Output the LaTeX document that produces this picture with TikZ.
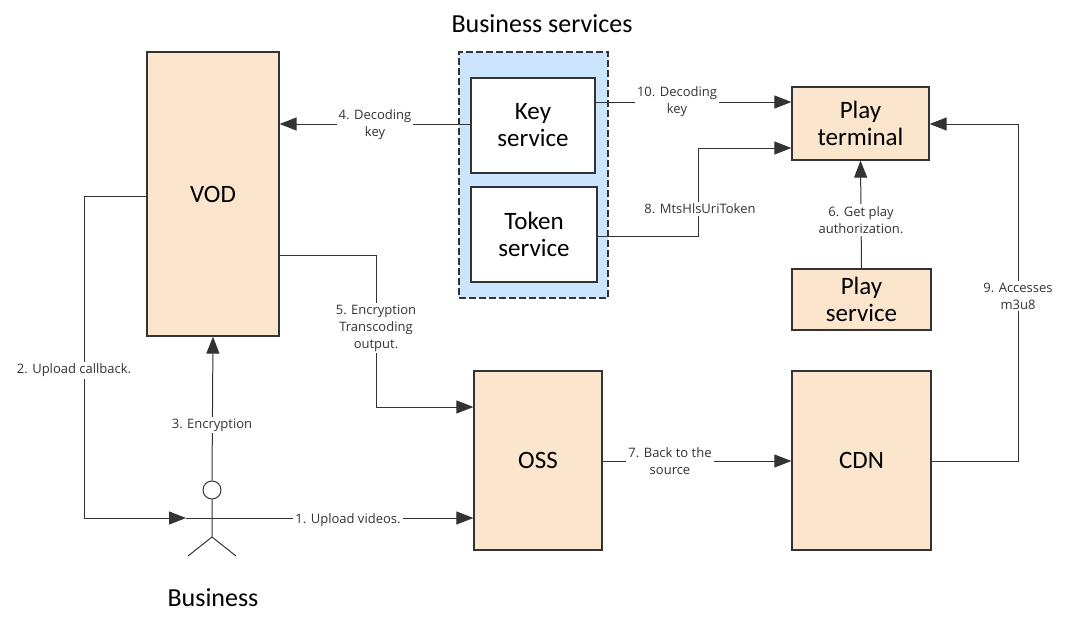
\documentclass[tikz,border=0pt]{standalone}
\usepackage{fontspec}
\setmainfont{Carlito}
\newfontfamily\lblfont{Open Sans}
\usetikzlibrary{arrows.meta}
\definecolor{peach}{HTML}{FCE5CD}
\definecolor{lblue}{HTML}{CCE5FF}
\definecolor{edge}{HTML}{333333}
\begin{document}
\begin{tikzpicture}[x=1pt,y=-1pt,
  box/.style={draw=edge,line width=1.2pt,fill=peach,font=\fontsize{25}{27}\selectfont,align=center,inner sep=0},
  wbox/.style={draw=edge,line width=1.2pt,fill=white,font=\fontsize{25}{27}\selectfont,align=center,inner sep=0},
  ln/.style={draw=edge,line width=1pt},
  arr/.style={ln,-{Triangle[length=17pt,width=13pt]}},
  lbl/.style={fill=white,font=\lblfont\fontsize{13}{17}\selectfont,text=edge,align=center,inner sep=2pt}]
\useasboundingbox (0,0) rectangle (1077,621);
\node[font=\fontsize{26}{28}\selectfont] (bs) at (542,24) {Business services};
\node[draw=edge,dash pattern=on 7pt off 3pt,line width=1.2pt,fill=lblue,minimum width=149pt,minimum height=246pt] (grp) at (533.5,175) {};
\node[box,minimum width=132pt,minimum height=284pt] (vod) at (213,194) {VOD};
\node[wbox,minimum width=124pt,minimum height=95pt] (key) at (533,125.5) {Key\\service};
\node[wbox,minimum width=126pt,minimum height=95pt] (tok) at (534,234.5) {Token\\service};
\node[box,minimum width=137pt,minimum height=73pt] (pt) at (860.5,123.5) {Play\\terminal};
\node[box,minimum width=139pt,minimum height=61pt] (ps) at (861.5,299.5) {Play\\service};
\node[box,minimum width=128pt,minimum height=179pt] (oss) at (538,460.5) {OSS};
\node[box,minimum width=139pt,minimum height=179pt] (cdn) at (861.5,460.5) {CDN};
% actor
\node[draw=edge,line width=1pt,circle,minimum size=18pt,inner sep=0] (head) at (212,490) {};
\coordinate (act) at (212,518);
\draw[ln] (head.south) -- (212,537) -- (188,556);
\draw[ln] (212,537) -- (236,556);
\draw[ln] (186,518) -- (238,518);
\node[font=\fontsize{26}{28}\selectfont] (bn) at (213,598) {Business};
% connectors
\coordinate (a1) at (238,518);
\draw[arr] (a1) -- (oss.west |- a1);
\node[lbl] at (348,520) {1. Upload videos.};
\coordinate (v2) at (vod.west |- 0,196);
\draw[arr] (v2) -- (84,196) -- (84,518) -- (186,518);
\node[lbl] at (74,370) {2. Upload callback.};
\draw[arr] (head.north) -- (vod.south);
\node[lbl] at (212,425) {3. Encryption};
\coordinate (k4) at (key.west |- 0,124);
\draw[arr] (k4) -- (vod.east |- k4);
\node[lbl] at (375,125) {4. Decoding\\key};
\coordinate (v5) at (vod.east |- 0,255);
\draw[arr] (v5) -- (376,255) -- (376,407) -- (oss.west |- 0,407);
\node[lbl] at (376,328) {5. Encryption\\Transcoding\\output.};
\draw[arr] (ps.north) -- (pt.south);
\node[lbl] at (861,220) {6. Get play\\authorization.};
\coordinate (o7) at (oss.east |- 0,461);
\draw[arr] (o7) -- (cdn.west |- o7);
\node[lbl] at (670,461) {7. Back to the\\source};
\coordinate (t8) at (tok.east |- 0,236);
\draw[arr] (t8) -- (698,236) -- (698,148) -- (pt.west |- 0,148);
\node[lbl] at (700,209) {8. MtsHlsUriToken};
\coordinate (c9) at (cdn.east |- 0,461);
\draw[arr] (c9) -- (1018,461) -- (1018,124) -- (pt.east |- 0,124);
\node[lbl] at (1018,296) {9. Accesses\\m3u8};
\coordinate (k10) at (key.east |- 0,102);
\draw[arr] (k10) -- (pt.west |- k10);
\node[lbl] at (677,102) {10. Decoding\\key};
\end{tikzpicture}
\end{document}
